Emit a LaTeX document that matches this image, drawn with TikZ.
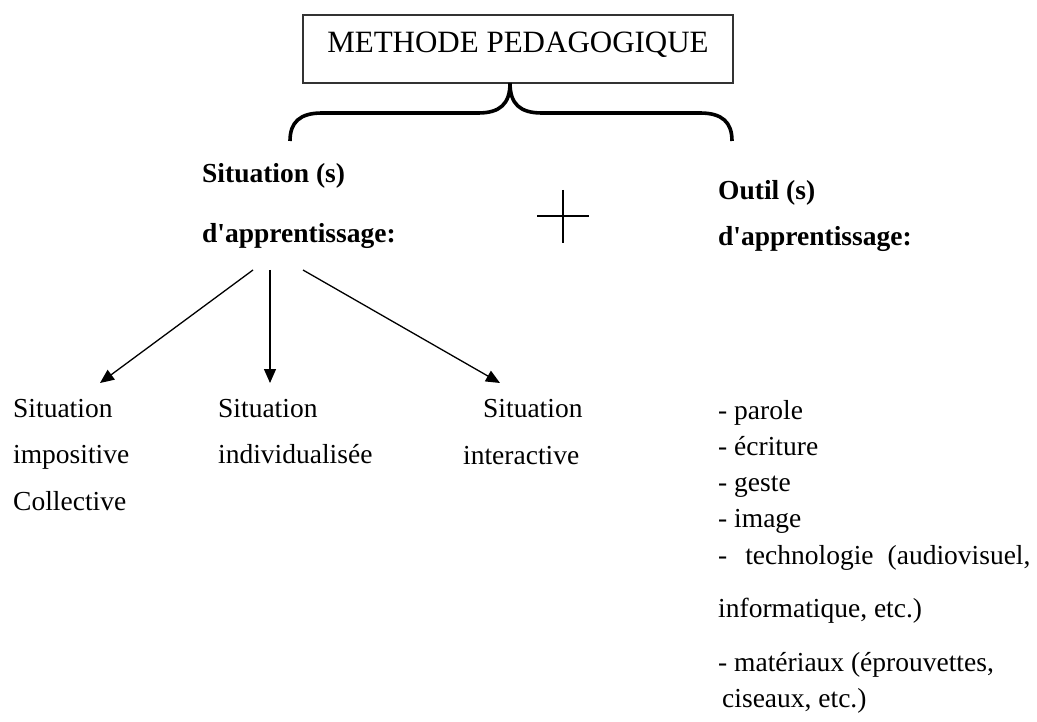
\documentclass[tikz,border=0pt]{standalone}
\usepackage{fontspec}
\setmainfont{Liberation Serif}[Ligatures=TeXOff]
\usetikzlibrary{arrows.meta}
\newcommand\txtsz{\fontsize{27.5}{33}\selectfont}
\newcommand\titlesz{\fontsize{31}{37}\selectfont}
\begin{document}
\begin{tikzpicture}[x=1pt,y=-1pt,
  txt/.style={anchor=base west, inner sep=0pt, font=\txtsz},
  btxt/.style={anchor=base west, inner sep=0pt, font=\txtsz\bfseries},
  titlebox/.style={draw=black!80, line width=1.2pt, minimum width=430pt, minimum height=68pt,
    inner sep=0pt, text height=20.5pt, text depth=12.5pt, font=\titlesz},
  bracestyle/.style={line width=3.6pt},
  arr/.style={line width=1.3pt, -{Triangle[length=14pt,width=12pt]}},
  plusstyle/.style={line width=2.6pt}
]
\useasboundingbox (0,0) rectangle (1037,722);

% title
\node[titlebox] (title) at (518,49) {METHODE PEDAGOGIQUE};

% brace
\draw[bracestyle] (290,141) .. controls (290,122) and (300,113) .. (322,113)
  -- (478,113) .. controls (500,113) and (510,104) .. (510,83)
  .. controls (510,104) and (520,113) .. (542,113)
  -- (700,113) .. controls (722,113) and (732,122) .. (732,141);

% left heading
\node[btxt] (sit) at (202,183) {Situation (s)};
\node[btxt] (sitapp) at (202,243) {d'apprentissage:};

% plus
\draw[plusstyle] (563,190) -- (563,243);
\draw[plusstyle] (537,216) -- (589,216);

% right heading
\node[btxt] (outil) at (718,200) {Outil (s)};
\node[btxt] (outilapp) at (718,246) {d'apprentissage:};

% situations
\node[txt] (s1a) at (13,417) {Situation};
\node[txt] (s1b) at (13,463) {impositive};
\node[txt] (s1c) at (13,510) {Collective};
\node[txt] (s2a) at (218,417) {Situation};
\node[txt] (s2b) at (218,463) {individualisée};
\node[txt] (s3a) at (483,417) {Situation};
\node[txt] (s3b) at (463,464) {interactive};

% arrows
\coordinate (a1) at (253,270);
\coordinate (a2) at (270,270);
\coordinate (a3) at (303,270);
\coordinate (e1) at (100,383);
\coordinate (e2) at (270,383);
\coordinate (e3) at (500,383);
\draw[arr] (a1) -- (e1);
\draw[arr] (a2) -- (e2);
\draw[arr] (a3) -- (e3);

% tools list
\node[txt] (t1) at (718,419) {- parole};
\node[txt] (t2) at (718,455) {- écriture};
\node[txt] (t3) at (718,491) {- geste};
\node[txt] (t4) at (718,527) {- image};
\node[txt] (t5) at (718,564) {-\hspace{18pt}technologie\hspace{14pt}(audiovisuel,};
\node[txt] (t6) at (718,617) {informatique, etc.)};
\node[txt] (t7) at (718,671) {- matériaux (éprouvettes,};
\node[txt] (t8) at (722,707) {ciseaux, etc.)};
\end{tikzpicture}
\end{document}
